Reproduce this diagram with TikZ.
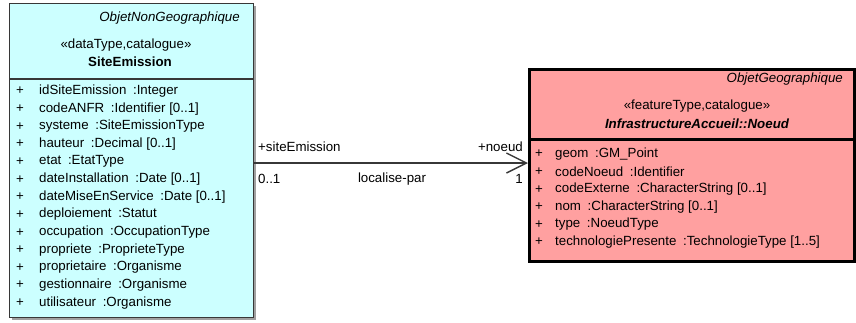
\documentclass[tikz,border=0pt]{standalone}
\usepackage{fontspec}
\setmainfont{Liberation Sans}
\usetikzlibrary{arrows.meta}
\definecolor{cyanfill}{RGB}{204,255,255}
\definecolor{redfill}{RGB}{255,160,160}
\definecolor{edgegray}{RGB}{55,55,55}
\definecolor{shadowgray}{RGB}{160,160,160}
\begin{document}
\begin{tikzpicture}[x=1pt,y=-1pt,
  font=\fontsize{13.3}{15}\selectfont,
  txt/.style={inner sep=0pt, anchor=west},
  txtr/.style={inner sep=0pt, anchor=east},
  txtc/.style={inner sep=0pt},
  classbox/.style={anchor=north west, inner sep=0pt}]
\useasboundingbox (0,0) rectangle (856,322);
% shadows
\fill[shadowgray] (12,6) rectangle (256,320);
\fill[shadowgray] (531,71) rectangle (856,263);
% boxes
\node[classbox, draw=edgegray, line width=1.3pt, fill=cyanfill, minimum width=244pt, minimum height=314pt] (site) at (9,3) {};
\draw[edgegray, line width=1.3pt] (site.west |- 0,79) -- (site.east |- 0,79);
\node[classbox, draw=black, line width=3pt, fill=redfill, minimum width=325pt, minimum height=192pt] (noeud) at (528,68) {};
\draw[black, line width=3pt] (noeud.west |- 0,139) -- (noeud.east |- 0,139);
% left header
\node[txtr] (sitepkg) at (240,18) {\itshape ObjetNonGeographique};
\node[txtc] (sitest) at (126,45) {«dataType,catalogue»};
\node[txtc] (sitename) at (130,62) {\bfseries SiteEmission};
% left rows
\foreach \t [count=\i from 0] in {
  {idSiteEmission\enspace:Integer},
  {codeANFR\enspace:Identifier [0..1]},
  {systeme\enspace:SiteEmissionType},
  {hauteur\enspace:Decimal [0..1]},
  {etat\enspace:EtatType},
  {dateInstallation\enspace:Date [0..1]},
  {dateMiseEnService\enspace:Date [0..1]},
  {deploiement\enspace:Statut},
  {occupation\enspace:OccupationType},
  {propriete\enspace:ProprieteType},
  {proprietaire\enspace:Organisme},
  {gestionnaire\enspace:Organisme},
  {utilisateur\enspace:Organisme}} {
  \node[txt] (sp\i) at (16,{91+17.65*\i}) {+};
  \node[txt] (sr\i) at (39,{91+17.65*\i}) {\t};
}
% right header
\node[txtr] (noeudpkg) at (843,79) {\itshape ObjetGeographique};
\node[txtc] (noeudst) at (697,106) {«featureType,catalogue»};
\node[txtc] (noeudname) at (697,124) {\bfseries\itshape InfrastructureAccueil::Noeud};
% right rows
\foreach \t [count=\i from 0] in {
  {geom\enspace:GM\_Point},
  {codeNoeud\enspace:Identifier},
  {codeExterne\enspace:CharacterString [0..1]},
  {nom\enspace:CharacterString [0..1]},
  {type\enspace:NoeudType},
  {technologiePresente\enspace:TechnologieType [1..5]}} {
  \node[txt] (np\i) at (535,{154+17.6*\i}) {+};
  \node[txt] (nr\i) at (555,{154+17.6*\i}) {\t};
}
% association
\draw[edgegray, line width=1.2pt, -{Straight Barb[length=20pt,width=20pt,line width=1.4pt]}]
  (site.east |- 0,163) -- (noeud.west |- 0,163);
\node[txt] (rolea) at (258,147) {+siteEmission};
\node[txtr] (roleb) at (523,147) {+noeud};
\node[txt] (multa) at (258,179) {0..1};
\node[txtc] (assoc) at (392,179) {localise-par};
\node[txtr] (multb) at (523,179) {1};
\end{tikzpicture}
\end{document}
